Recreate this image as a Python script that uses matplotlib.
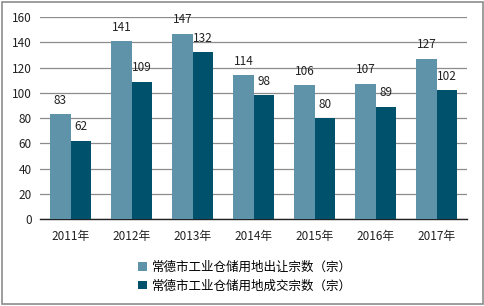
import matplotlib
matplotlib.use("Agg")
import matplotlib.pyplot as plt
import numpy as np
from matplotlib.patches import Rectangle

plt.rcParams['font.family'] = ['Noto Sans CJK SC', 'DejaVu Sans']

years = ["2011年", "2012年", "2013年", "2014年", "2015年", "2016年", "2017年"]
transfer = [83, 141, 147, 114, 106, 107, 127]
deals = [62, 109, 132, 98, 80, 89, 102]
series_names = ["常德市工业仓储用地出让宗数（宗）", "常德市工业仓储用地成交宗数（宗）"]
yticks = [0, 20, 40, 60, 80, 100, 120, 140, 160]

c_light = "#5E93A9"
c_dark = "#00516B"

fig = plt.figure(figsize=(4.85, 3.06), dpi=100)
fig.patches.append(Rectangle((0.004, 0.008), 0.992, 0.985, transform=fig.transFigure,
                             fill=False, edgecolor="#8c8c8c", linewidth=1.2))
ax = fig.add_axes([0.0825, 0.284, 0.881, 0.66])

x = np.arange(len(years))
w = 0.335
b1 = ax.bar(x - w/2, transfer, w, color=c_light, label=series_names[0], zorder=3)
b2 = ax.bar(x + w/2, deals, w, color=c_dark, label=series_names[1], zorder=3)

for xi, v in zip(x, transfer):
    ax.text(xi - w/2, v + 6, str(v), ha='center', va='bottom', fontsize=8.5, color='#222222')
for xi, v in zip(x, deals):
    ax.text(xi + w/2, v + 6, str(v), ha='center', va='bottom', fontsize=8.5, color='#222222')

ax.set_xlim(-0.5, len(years) - 0.5)
ax.set_ylim(0, 160)
ax.set_yticks(yticks)
ax.set_xticks(x)
ax.set_xticklabels(years)
ax.tick_params(axis='both', length=0, labelsize=8.5, colors='#222222')
ax.tick_params(axis='x', pad=8)
ax.tick_params(axis='y', pad=6)
ax.yaxis.grid(True, color='#8c8c8c', linewidth=0.9, zorder=0)
for s in ['top', 'right', 'left']:
    ax.spines[s].set_visible(False)
ax.spines['bottom'].set_color('#222222')
ax.spines['bottom'].set_linewidth(1.0)

fig.legend(handles=[b1, b2], loc='center', bbox_to_anchor=(0.505, 0.096), ncol=1,
           frameon=False, fontsize=9, handlelength=0.7, handleheight=0.7,
           handletextpad=0.4, labelspacing=0.45)

fig.savefig("out.png", dpi=100)
